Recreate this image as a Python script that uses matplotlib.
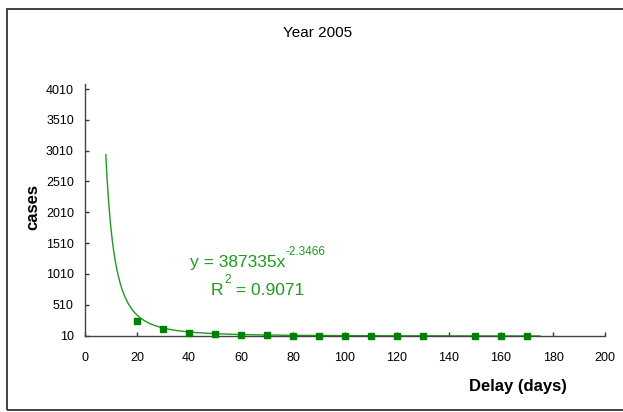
import numpy as np
import matplotlib
matplotlib.use("Agg")
import matplotlib.pyplot as plt
from matplotlib.patches import Rectangle

plt.rcParams['font.family'] = ['Liberation Sans', 'DejaVu Sans']

# data
delay_days = [20, 30, 40, 50, 60, 70, 80, 90, 100, 110, 120, 130, 150, 160, 170]
cases = [250, 110, 50, 30, 25, 12, 10, 10, 8, 8, 7, 7, 6, 6, 5]
fit_coef = 387335
fit_exp = -2.3466
fit_r2 = 0.9071
fit_range = (8, 175)
x_ticks = [0, 20, 40, 60, 80, 100, 120, 140, 160, 180, 200]
y_ticks = [10, 510, 1010, 1510, 2010, 2510, 3010, 3510, 4010]

W, H = 623, 412
fig = plt.figure(figsize=(W / 100, H / 100), dpi=100)
fig.patch.set_facecolor('white')

# outer chart border
fig.patches.append(Rectangle((7 / W, 1 - 410 / H), 1.2, (410 - 9) / H,
                             transform=fig.transFigure, fill=False,
                             edgecolor='#333333', linewidth=1.3))

ax = fig.add_axes([85 / W, 1 - 335.5 / H, (605 - 85) / W, (335.5 - 83.5) / H])
ax.set_xlim(0, 200)
ax.set_ylim(10, 4100)

green = '#008000'
txt_green = '#1f9a1f'
xs = np.linspace(fit_range[0], fit_range[1], 400)
ax.plot(xs, fit_coef * xs ** fit_exp, color=txt_green, linewidth=1.0)
ax.plot(delay_days, cases, linestyle='none', marker='s', markersize=5,
        color=green, clip_on=False, zorder=5)

ax.set_xticks(x_ticks)
ax.set_yticks(y_ticks)
ax.tick_params(axis='both', direction='in', length=3, width=1, color='#333333',
               labelsize=9, labelcolor='#000000')
ax.tick_params(axis='x', pad=12)
ax.tick_params(axis='y', pad=8)
for s in ['top', 'right']:
    ax.spines[s].set_visible(False)
for s in ['left', 'bottom']:
    ax.spines[s].set_color('#444444')
    ax.spines[s].set_linewidth(1.0)
ax.set_facecolor('none')

fig.text(318 / W, 1 - 33 / H, 'Year 2005', ha='center', va='center', fontsize=11)
fig.text(518 / W, 1 - 387 / H, 'Delay (days)', ha='center', va='center',
         fontsize=12, fontweight='bold')
fig.text(33 / W, 1 - 207 / H, 'cases', ha='center', va='center', rotation=90,
         fontsize=12, fontweight='bold')

renderer = fig.canvas.get_renderer()


def text_with_sup(x_px, y_px, base, sup, tail=''):
    t1 = fig.text(x_px / W, 1 - y_px / H, base, ha='left', va='baseline',
                  fontsize=12.5, color=txt_green)
    bb = t1.get_window_extent(renderer)
    t2 = fig.text(bb.x1 / W + 0.5 / W, 1 - (y_px - 12) / H, sup, ha='left',
                  va='baseline', fontsize=8.5, color=txt_green)
    if tail:
        bb2 = t2.get_window_extent(renderer)
        fig.text(bb2.x1 / W, 1 - y_px / H, tail, ha='left', va='baseline',
                 fontsize=12.5, color=txt_green)


text_with_sup(190, 267, 'y = %dx' % fit_coef, '%.4f' % fit_exp)
text_with_sup(211, 295, 'R', '2', ' = %.4f' % fit_r2)

fig.savefig('out.png', dpi=100)
